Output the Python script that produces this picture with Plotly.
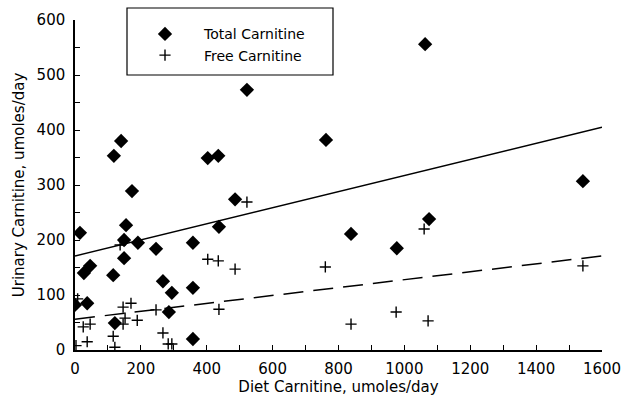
import plotly.graph_objects as go

# Total carnitine (diamonds): diet intake vs urinary excretion
total_diet = [0, 15, 27, 46, 37, 116, 121, 118, 140, 173, 149, 149, 155, 191, 246, 267,
              294, 285, 358, 358, 358, 403, 435, 437, 486, 522, 762, 838, 977, 1075, 1063, 1542]
total_urine = [82, 213, 140, 153, 85, 136, 49, 353, 380, 289, 200, 167, 227, 195, 184, 125,
               104, 69, 195, 113, 20, 349, 353, 224, 274, 473, 382, 211, 185, 238, 556, 307]

# Free carnitine (crosses)
free_diet = [8, 25, 46, 37, 3, 116, 121, 146, 170, 152, 146, 189, 137, 246, 267, 283, 294,
             358, 403, 435, 437, 486, 522, 760, 838, 975, 1072, 1060, 1542]
free_urine = [93, 42, 47, 15, 8, 25, 5, 78, 85, 58, 47, 54, 191, 73, 31, 11, 11,
              20, 165, 162, 74, 147, 269, 151, 47, 69, 53, 220, 153]

# Regression lines (endpoints)
fit_x = [0, 1600]
total_fit = [171, 405]
free_fit = [56, 171]

x_ticks = [0, 200, 400, 600, 800, 1000, 1200, 1400, 1600]
y_ticks = [0, 100, 200, 300, 400, 500, 600]

FONT = "DejaVu Sans"

fig = go.Figure()
fig.add_trace(go.Scatter(x=fit_x, y=total_fit, mode="lines",
                         line=dict(color="black", width=1.5), showlegend=False,
                         hoverinfo="skip"))
fig.add_trace(go.Scatter(x=fit_x, y=free_fit, mode="lines",
                         line=dict(color="black", width=1.5, dash="20px,10px"),
                         showlegend=False, hoverinfo="skip"))
fig.add_trace(go.Scatter(x=total_diet, y=total_urine, mode="markers", name="Total Carnitine",
                         marker=dict(symbol="diamond", size=11, color="black",
                                     line=dict(width=0))))
fig.add_trace(go.Scatter(x=free_diet, y=free_urine, mode="markers", name="Free Carnitine",
                         marker=dict(symbol="cross-thin", size=8, color="black",
                                     line=dict(width=1.4, color="black"))))

fig.update_layout(
    width=631, height=397,
    margin=dict(l=75, r=29, t=20, b=47, autoexpand=False),
    paper_bgcolor="white", plot_bgcolor="white",
    font=dict(family=FONT, size=15, color="black"),
    legend=dict(x=(126 - 75) / 527, y=1.005, xanchor="left", yanchor="top",
                itemwidth=68,
                bgcolor="rgba(0,0,0,0)", borderwidth=0,
                font=dict(family=FONT, size=14, color="black")),
    shapes=[dict(type="rect", xref="paper", yref="paper",
                 x0=(127 - 75) / 527, x1=(333 - 75) / 527,
                 y0=1 - (75 - 20) / 330, y1=1 + (20 - 8) / 330,
                 line=dict(color="black", width=1.2), fillcolor="rgba(0,0,0,0)")],
)
fig.update_xaxes(
    range=[0, 1600], tickvals=x_ticks, ticktext=[str(v) for v in x_ticks],
    showgrid=False, zeroline=False, showline=True, linecolor="black", linewidth=1.5,
    ticks="inside", ticklen=5, tickwidth=1.2, tickcolor="black",
    minor=dict(dtick=100, ticks="inside", ticklen=5, tickwidth=1.2, tickcolor="black"),
    tickfont=dict(family=FONT, size=15), ticklabelstandoff=4, automargin=False,
    title=dict(text="Diet Carnitine, umoles/day", font=dict(family=FONT, size=15), standoff=0),
)
fig.update_yaxes(
    range=[0, 600], tickvals=y_ticks, ticktext=[str(v) for v in y_ticks],
    showgrid=False, zeroline=False, showline=True, linecolor="black", linewidth=1.5,
    ticks="inside", ticklen=5, tickwidth=1.2, tickcolor="black",
    minor=dict(dtick=50, ticks="inside", ticklen=5, tickwidth=1.2, tickcolor="black"),
    tickfont=dict(family=FONT, size=15), ticklabelstandoff=5, automargin=False,
    title=dict(text="Urinary Carnitine, umoles/day", font=dict(family=FONT, size=15), standoff=8),
)

fig.write_html("out.html")
